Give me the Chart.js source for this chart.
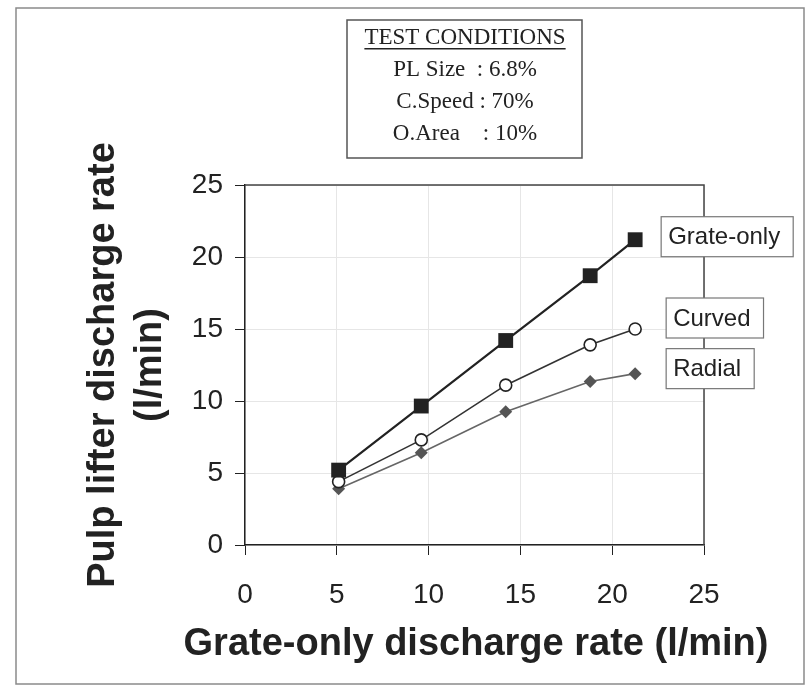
<!DOCTYPE html>
<html>
<head>
<meta charset="utf-8">
<script src="https://cdn.jsdelivr.net/npm/chart.js@4.4.0/dist/chart.umd.min.js"></script>
<style>
  html, body { margin: 0; padding: 0; background: #fff; }
  #wrap { width: 811px; height: 693px; position: relative; }
</style>
</head>
<body>
<div id="wrap"><canvas id="grafico" width="811" height="693"></canvas></div>
<script>
// values
const grateOnlyRate = [5.1, 9.6, 14.2, 18.8, 21.25];
const grateOnly = [5.2, 9.65, 14.2, 18.7, 21.2];
const curved = [4.4, 7.3, 11.1, 13.9, 15.0];
const radial = [3.9, 6.4, 9.25, 11.35, 11.9];
const seriesNames = ['Grate-only', 'Curved', 'Radial'];
const xTicks = [0, 5, 10, 15, 20, 25];
const yTicks = [0, 5, 10, 15, 20, 25];
const xTitle = 'Grate-only discharge rate (l/min)';
const yTitle = ['Pulp lifter discharge rate', '(l/min)'];
const testConditions = ['PL Size  : 6.8%', 'C.Speed : 70%', 'O.Area    : 10%'];

const pts = ys => grateOnlyRate.map((x, i) => ({ x: x, y: ys[i] }));
const sans = '"Liberation Sans", Arial, sans-serif';

// frame, plot box, axis titles, test conditions box and series labels
const extras = {
    id: 'extras',
    beforeDraw(chart) {
        const c = chart.ctx;
        c.save();
        c.fillStyle = '#fff';
        c.fillRect(0, 0, chart.width, chart.height);
        c.strokeStyle = '#8a8a8a';
        c.lineWidth = 1.5;
        c.strokeRect(16, 8, 788, 676);
        c.restore();
    },
    afterDatasetsDraw(chart) {
        const c = chart.ctx;
        const a = chart.chartArea;
        c.save();
        c.strokeStyle = '#444';
        c.lineWidth = 1.5;
        c.beginPath();
        c.moveTo(a.left, a.top);
        c.lineTo(a.right, a.top);
        c.lineTo(a.right, a.bottom);
        c.stroke();

        // axis titles (drawn here so they are not squeezed to the axis length)
        c.fillStyle = '#222';
        c.textAlign = 'center';
        c.textBaseline = 'middle';
        c.font = 'bold 38px ' + sans;
        c.fillText(xTitle, 476, 645);
        c.save();
        c.translate(104, (a.top + a.bottom) / 2);
        c.rotate(-Math.PI / 2);
        c.fillText(yTitle[0], 0, 0);
        c.fillText(yTitle[1], 0, 47);
        c.restore();

        // test conditions
        c.strokeStyle = '#555';
        c.lineWidth = 1.5;
        c.strokeRect(347, 20, 235, 138);
        c.fillStyle = '#222';
        c.font = '23px "Liberation Serif", "Times New Roman", serif';
        c.fillText('TEST CONDITIONS', 465, 38);
        const w = c.measureText('TEST CONDITIONS').width;
        c.fillRect(465 - w / 2, 48, w, 1.5);
        testConditions.forEach((t, i) => c.fillText(t, 465, 70 + i * 32));

        // series name boxes next to the last points
        const dy = [-3, -11, -5];
        c.font = '24px ' + sans;
        c.textAlign = 'left';
        chart.data.datasets.forEach((ds, i) => {
            const meta = chart.getDatasetMeta(i);
            const p = meta.data[meta.data.length - 1];
            const tw = c.measureText(seriesNames[i]).width;
            const x = p.x + (i === 0 ? 26 : 31);
            const y = p.y + dy[i];
            c.fillStyle = '#fff';
            c.fillRect(x, y - 20, tw + 20, 40);
            c.strokeStyle = '#777';
            c.lineWidth = 1.2;
            c.strokeRect(x, y - 20, tw + 20, 40);
            c.fillStyle = '#222';
            c.fillText(seriesNames[i], x + 7, y + 1);
        });
        c.restore();
    }
};

const ctx = document.getElementById('grafico');

new Chart(ctx, {
    type: 'line',
    data: {
        datasets: [{
            label: seriesNames[0],
            data: pts(grateOnly),
            borderColor: '#222',
            borderWidth: 2.2,
            pointStyle: 'rect',
            pointRadius: 10.5,
            pointBackgroundColor: '#222',
            pointBorderColor: '#222',
            pointBorderWidth: 0
        }, {
            label: seriesNames[1],
            data: pts(curved),
            borderColor: '#333',
            borderWidth: 1.6,
            pointStyle: 'circle',
            pointRadius: 6,
            pointBackgroundColor: '#fff',
            pointBorderColor: '#222',
            pointBorderWidth: 1.6
        }, {
            label: seriesNames[2],
            data: pts(radial),
            borderColor: '#666',
            borderWidth: 1.6,
            pointStyle: 'rectRot',
            pointRadius: 6.5,
            pointBackgroundColor: '#555',
            pointBorderColor: '#555',
            pointBorderWidth: 0
        }]
    },
    options: {
        responsive: false,
        animation: false,
        layout: { padding: { left: 0, top: 185, right: 107, bottom: 0 } },
        plugins: { legend: { display: false }, tooltip: { enabled: false } },
        elements: { line: { tension: 0 } },
        scales: {
            x: {
                type: 'linear',
                min: 0,
                max: 25,
                afterBuildTicks: s => { s.ticks = xTicks.map(v => ({ value: v })); },
                afterFit: s => { s.height = 693 - 545; },
                ticks: {
                    color: '#222',
                    padding: 23,
                    font: { family: sans, size: 28 }
                },
                grid: { color: '#e6e6e6', tickColor: '#222', tickLength: 10, lineWidth: 1 },
                border: { color: '#222', width: 1.5 },
                title: { display: false }
            },
            y: {
                type: 'linear',
                min: 0,
                max: 25,
                afterBuildTicks: s => { s.ticks = yTicks.map(v => ({ value: v })); },
                afterFit: s => { s.width = 245; },
                ticks: {
                    color: '#222',
                    padding: 12,
                    font: { family: sans, size: 28 }
                },
                grid: { color: '#e6e6e6', tickColor: '#222', tickLength: 10, lineWidth: 1 },
                border: { color: '#222', width: 1.5 },
                title: { display: false }
            }
        }
    },
    plugins: [extras]
});
</script>
</body>
</html>
